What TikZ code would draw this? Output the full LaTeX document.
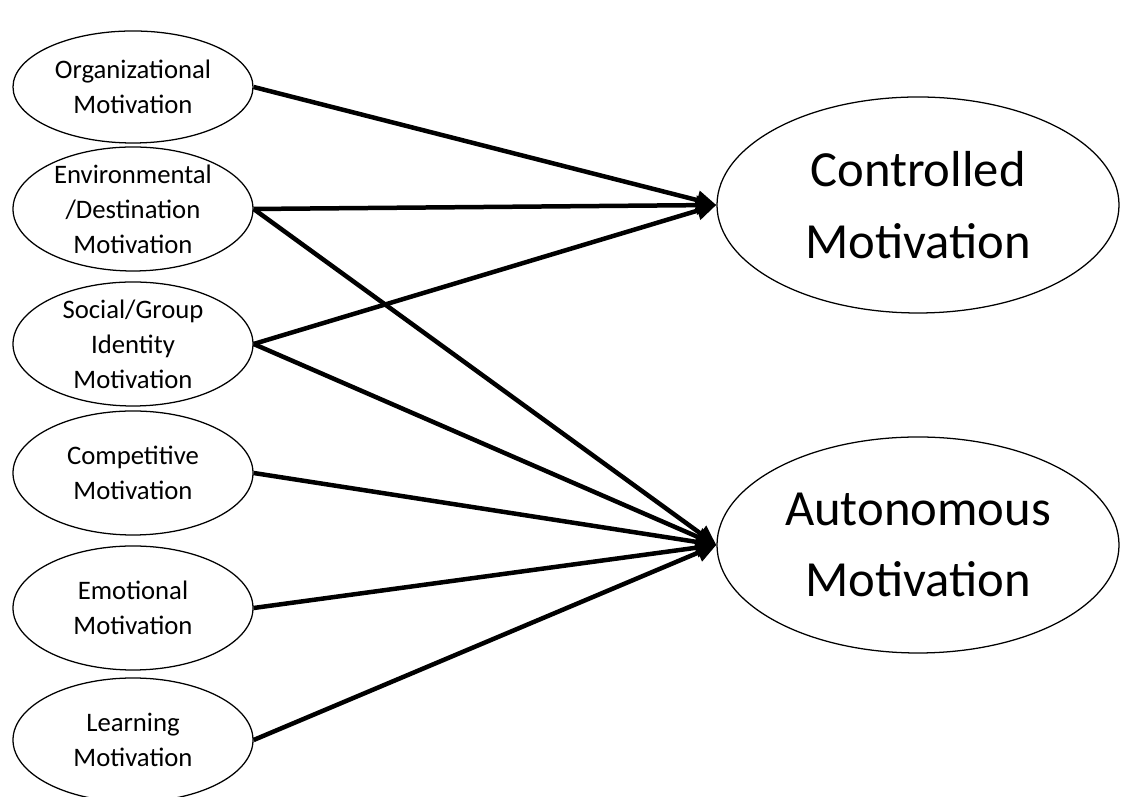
\documentclass[tikz,border=0pt]{standalone}
\usepackage{fontspec}
\setmainfont{Carlito}
\usetikzlibrary{shapes.geometric,arrows.meta}
\begin{document}
\begin{tikzpicture}[
  src/.style={ellipse,draw,line width=0.9pt,minimum width=6cm,minimum height=3.1cm,inner sep=0pt},
  dst/.style={ellipse,draw,line width=0.9pt,minimum width=10.05cm,minimum height=5.4cm,inner sep=0pt},
  srctext/.style={align=center,font=\fontsize{19}{25}\selectfont},
  dsttext/.style={align=center,font=\fontsize{36}{51}\selectfont},
  link/.style={line width=3.2pt,-{Triangle[length=14pt,width=13pt]}}
]
\useasboundingbox (0,0) rectangle (28.025,19.925);
\node[src,minimum height=2.8cm] (org) at (3.325,17.75) {};
\node[src] (env) at (3.325,14.7) {};
\node[src] (soc) at (3.325,11.325) {};
\node[src] (comp) at (3.325,8.1) {};
\node[src] (emo) at (3.325,4.725) {};
\node[src] (learn) at (3.325,1.425) {};
\node[dst] (ctrl) at (22.95,14.8) {};
\node[dst] (auto) at (22.95,6.3) {};
\node[srctext] (org-t) at (org) {Organizational\\Motivation};
\node[srctext] (env-t) at (env) {Environmental\\/Destination\\Motivation};
\node[srctext] (soc-t) at (soc) {Social/Group\\Identity\\Motivation};
\node[srctext] (comp-t) at (comp) {Competitive\\Motivation};
\node[srctext] (emo-t) at (emo) {Emotional\\Motivation};
\node[srctext] (learn-t) at (learn) {Learning\\Motivation};
\node[dsttext] (ctrl-t) at (ctrl) {Controlled\\Motivation};
\node[dsttext] (auto-t) at (auto) {Autonomous\\Motivation};
\draw[link] (org.east) -- (ctrl.west);
\draw[link] (env.east) -- (ctrl.west);
\draw[link] (env.east) -- (auto.west);
\draw[link] (soc.east) -- (ctrl.west);
\draw[link] (soc.east) -- (auto.west);
\draw[link] (comp.east) -- (auto.west);
\draw[link] (emo.east) -- (auto.west);
\draw[link] (learn.east) -- (auto.west);
\end{tikzpicture}
\end{document}
